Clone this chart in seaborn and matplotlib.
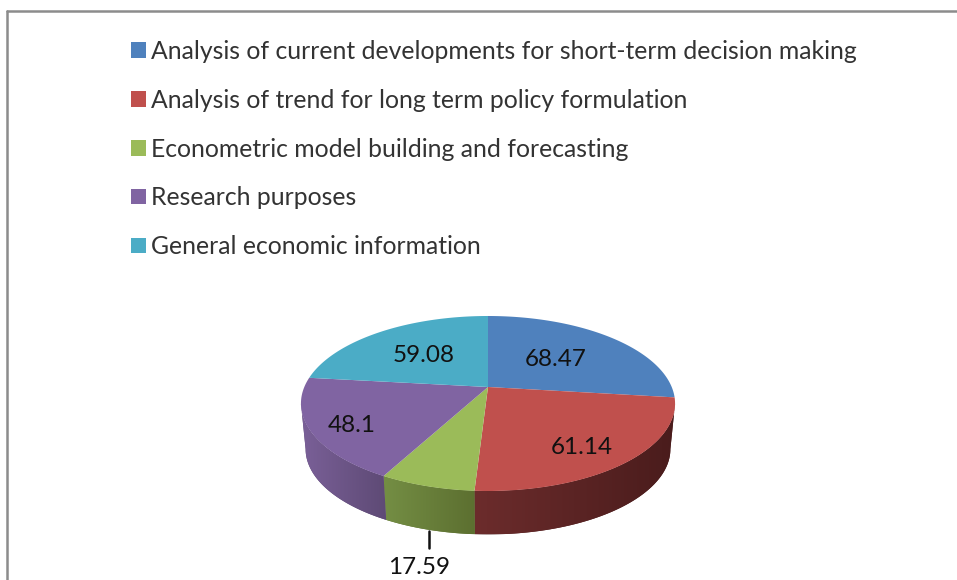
import numpy as np
import matplotlib
matplotlib.use("Agg")
import matplotlib.pyplot as plt
from matplotlib.colors import LinearSegmentedColormap
from matplotlib.patches import Patch
import seaborn as sns

# Data
categories = [
    "Analysis of current developments for short-term decision making",
    "Analysis of trend for long term policy formulation",
    "Econometric model building and forecasting",
    "Research purposes",
    "General economic information",
]
values = [68.47, 61.14, 17.59, 48.1, 59.08]
value_labels = ["68.47", "61.14", "17.59", "48.1", "59.08"]

top_colors = ["#4f81bd", "#c0504d", "#9bbb59", "#8064a2", "#4bacc6"]
side_left = ["#3a5f8c", "#6c2c2c", "#748e44", "#7a6098", "#38819a"]
side_right = ["#2c4a6e", "#4a1c1c", "#5c6f30", "#5e4a75", "#2c6a80"]

sns.set_style("white")
plt.rcParams["font.family"] = ["Lato", "DejaVu Sans"]
palette = sns.color_palette(top_colors)

fig = plt.figure(figsize=(9.57, 5.8), dpi=100)
ax = fig.add_axes([0, 0, 1, 1])

# let pie work out the slice angles, the tilted drawing is done below
wedges, _ = ax.pie(values, startangle=90, counterclock=False)
angles = [(w.theta1, w.theta2) for w in wedges]
for w in wedges:
    w.remove()

ax.set_aspect("auto")
ax.set_xlim(0, 957)
ax.set_ylim(580, 0)
ax.axis("off")

# Tilted disc
CX, CY = 488, 387
A, K, P = 183.7, 84.4, 0.1886
DEPTH, SHRINK = 46, 0.975
EDGE = np.degrees(np.arcsin(P))  # where the rim turns away from the viewer


def rim(theta, scale=1.0, drop=0.0):
    t = np.radians(theta)
    w = 1 + P * np.sin(t)
    x = CX + scale * A * np.cos(t) / w
    y = CY + drop - scale * K * np.sin(t) / w
    return x, y


# Side walls, only the front part shows
for (t1, t2), c1, c2 in zip(angles, side_left, side_right):
    lo, hi = max(t1, -180 + EDGE), min(t2, -EDGE)
    if lo >= hi:
        continue
    t = np.linspace(lo, hi, 80)
    x1, y1 = rim(t)
    x2, y2 = rim(t, SHRINK, DEPTH)
    xs = np.concatenate([x1, x2[::-1]])
    ys = np.concatenate([y1, y2[::-1]])
    poly = ax.fill(xs, ys, color=c2, lw=0, zorder=2)[0]
    cmap = LinearSegmentedColormap.from_list("side", [c1, c2])
    im = ax.imshow(np.linspace(0, 1, 128)[None, :], cmap=cmap, aspect="auto",
                   extent=(xs.min(), xs.max(), ys.max(), ys.min()), zorder=3)
    im.set_clip_path(poly)

ax.set_xlim(0, 957)
ax.set_ylim(580, 0)

# Top face
for (t1, t2), col in zip(angles, palette):
    t = np.linspace(t1, t2, 120)
    x, y = rim(t)
    ax.fill(np.r_[CX, x], np.r_[CY, y], color=col, lw=0, zorder=4)

# Value labels
label_pos = [(556, 359), (582, 448), (419, 567), (352, 425), (424, 356)]
for txt, (lx, ly) in zip(value_labels, label_pos):
    ax.text(lx, ly, txt, ha="center", va="center", fontsize=17.5,
            color="#111111", zorder=6)

# leader line for the small slice
ax.plot([429, 429], [531, 548], color="#111111", lw=1.8, zorder=5)

# Outer frame (only top and left show)
ax.plot([7, 957], [11, 11], color="#8c8c8c", lw=1.8, zorder=1)
ax.plot([7, 7], [11, 580], color="#8c8c8c", lw=1.8, zorder=1)

# Legend
handles = [Patch(facecolor=c, edgecolor="none") for c in palette]
ax.legend(handles, categories, loc="upper left",
          bbox_to_anchor=(131, 40), bbox_transform=ax.transData,
          frameon=False, fontsize=17.85, labelcolor="#333333",
          handlelength=0.6, handleheight=0.6, handletextpad=0.22,
          labelspacing=1.04, borderpad=0, borderaxespad=0)

fig.savefig("out.png", dpi=100)
plt.close()
